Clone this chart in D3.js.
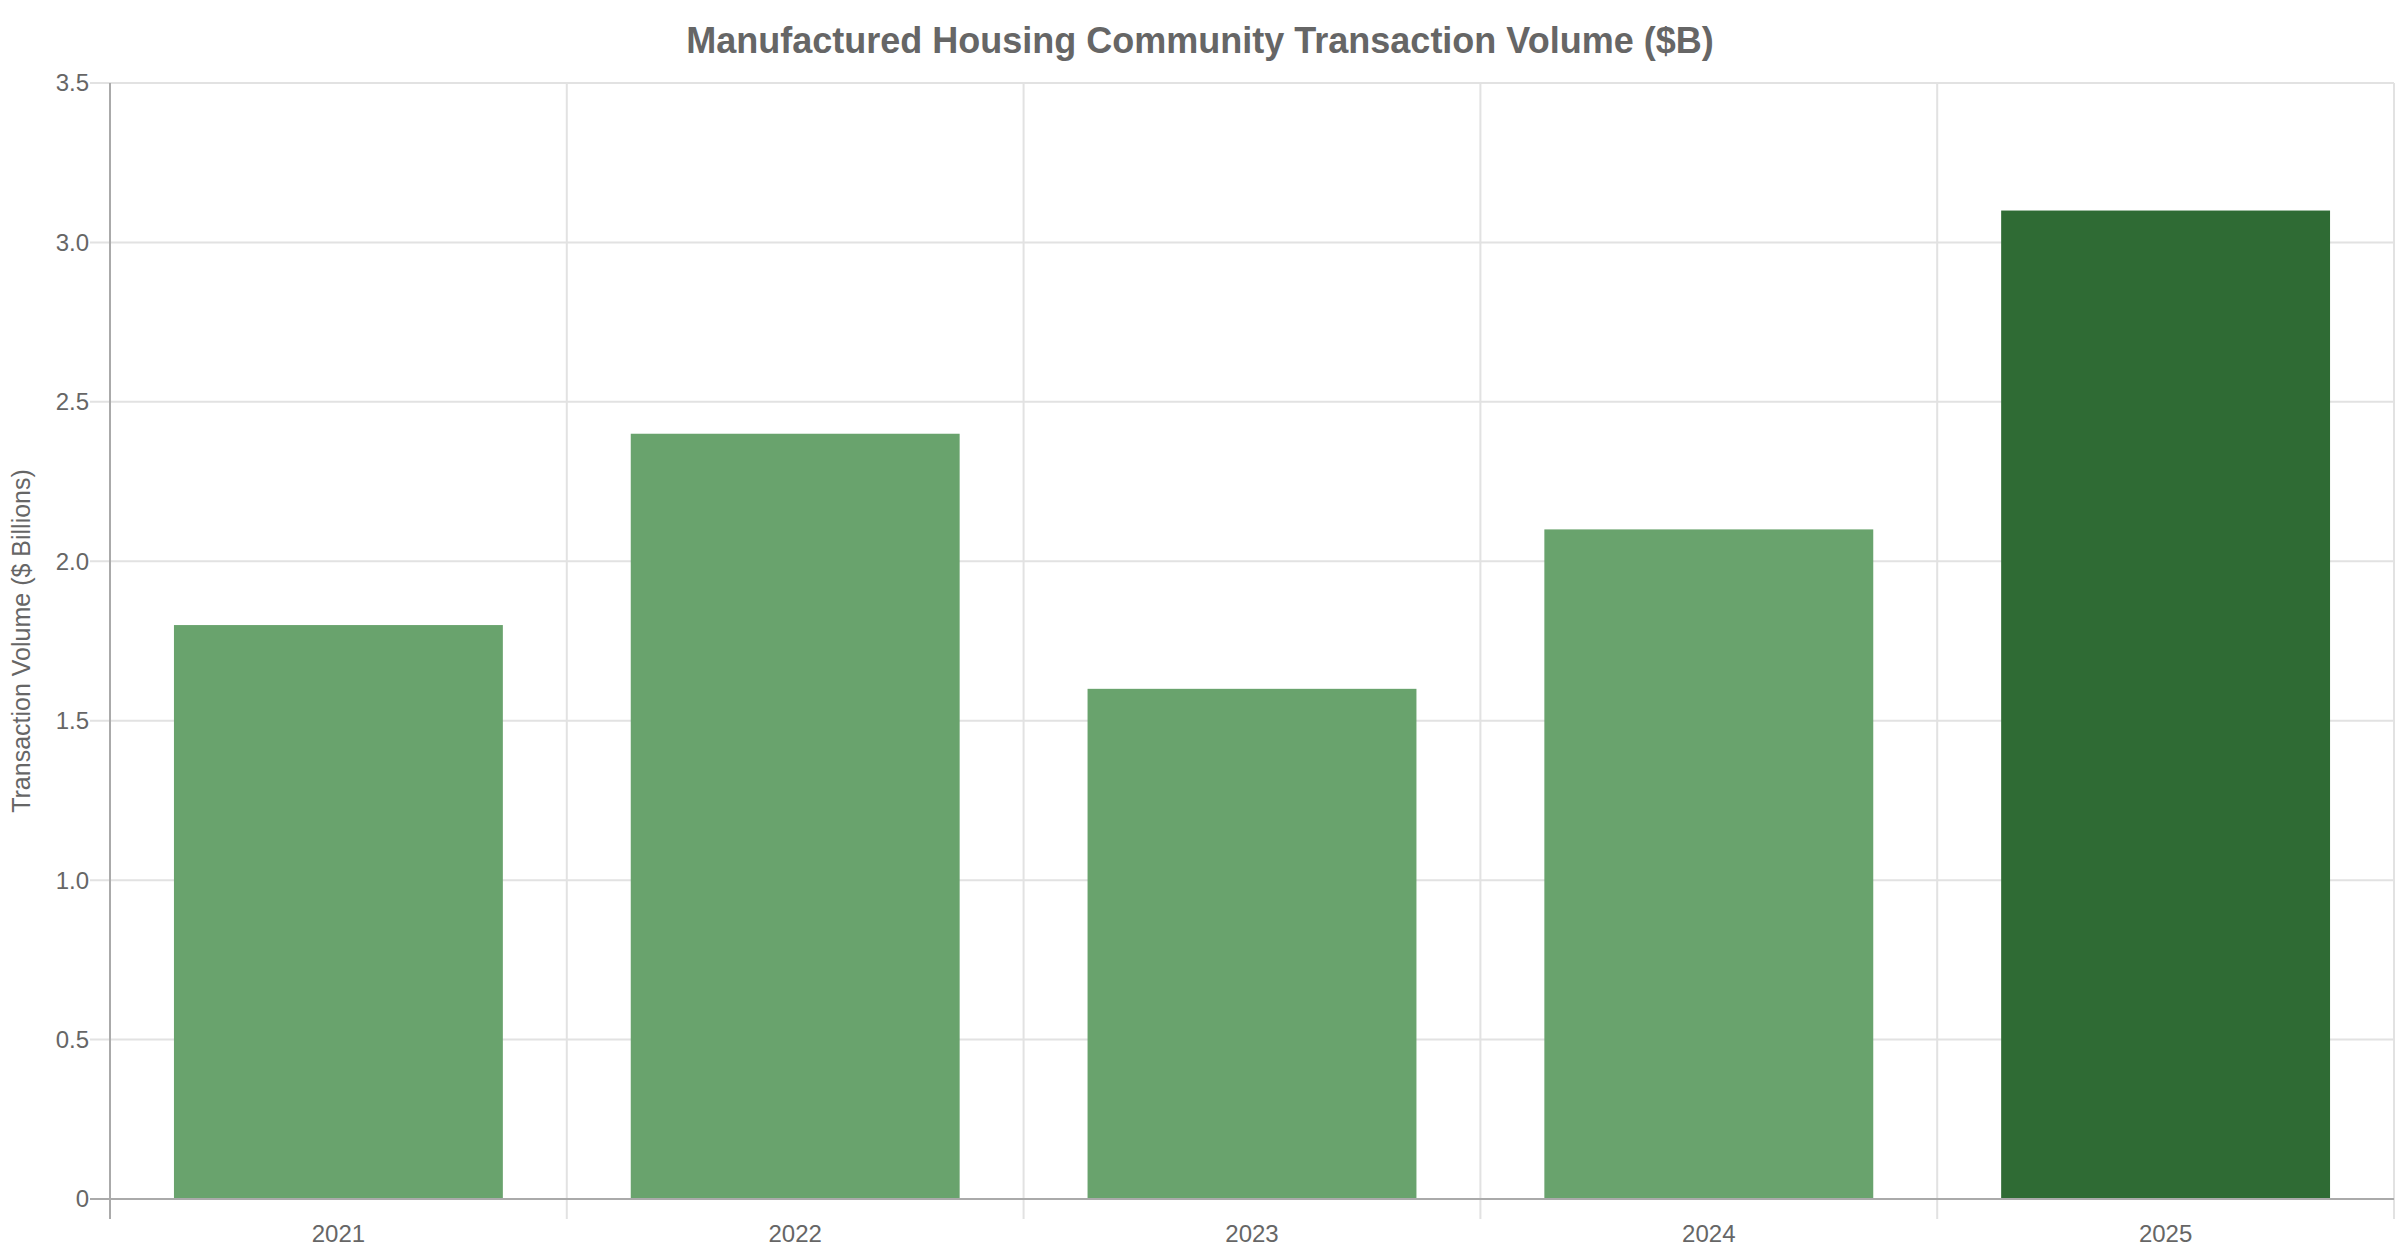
<!DOCTYPE html>
<html>
<head>
<meta charset="utf-8">
<script src="https://cdn.jsdelivr.net/npm/d3@7"></script>
<style>
  html, body { margin: 0; padding: 0; background: #fff; }
  svg { display: block; font-family: "Liberation Sans", Arial, Helvetica, sans-serif; }
</style>
</head>
<body>
<svg id="chart" width="2400" height="1260"></svg>
<script>
// data
const years = ["2021", "2022", "2023", "2024", "2025"];
const volumes = [1.8, 2.4, 1.6, 2.1, 3.1];
const barColors = ["#69a36d", "#69a36d", "#69a36d", "#69a36d", "#2f6b34"];
const yTicks = [0, 0.5, 1.0, 1.5, 2.0, 2.5, 3.0, 3.5];
const yTickLabels = ["0", "0.5", "1.0", "1.5", "2.0", "2.5", "3.0", "3.5"];
const titleText = "Manufactured Housing Community Transaction Volume ($B)";
const yTitle = "Transaction Volume ($ Billions)";

const W = 2400, H = 1260;
const m = { top: 83, right: 6, bottom: 61, left: 110 };
const svg = d3.select("#chart");

const x = d3.scaleBand().domain(years).range([m.left, W - m.right]).padding(0);
const y = d3.scaleLinear().domain([0, 3.5]).range([H - m.bottom, m.top]);
const barPad = 0.14; // chart.js style 0.8 * 0.9 bar share

// title
svg.append("text")
  .attr("x", W / 2).attr("y", 53)
  .attr("text-anchor", "middle")
  .attr("font-size", 36).attr("font-weight", "bold")
  .attr("fill", "#666")
  .text(titleText);

// horizontal grid
svg.append("g").selectAll("line")
  .data(yTicks.filter(d => d > 0))
  .enter().append("line")
  .attr("x1", m.left - 20).attr("x2", W - m.right)
  .attr("y1", d => y(d)).attr("y2", d => y(d))
  .attr("stroke", "#e2e2e2").attr("stroke-width", 2);

// vertical grid at category edges
const edges = years.map(d => x(d)).concat([x(years[years.length - 1]) + x.bandwidth()]);
svg.append("g").selectAll("line")
  .data(edges.slice(1))
  .enter().append("line")
  .attr("x1", d => d).attr("x2", d => d)
  .attr("y1", m.top).attr("y2", H - m.bottom + 20)
  .attr("stroke", "#e2e2e2").attr("stroke-width", 2);

// bars
svg.append("g").selectAll("rect")
  .data(volumes)
  .enter().append("rect")
  .attr("x", (d, i) => x(years[i]) + x.bandwidth() * barPad)
  .attr("width", x.bandwidth() * (1 - 2 * barPad))
  .attr("y", d => y(d))
  .attr("height", d => y(0) - y(d))
  .attr("fill", (d, i) => barColors[i]);

// axes lines
svg.append("line")
  .attr("x1", m.left).attr("x2", m.left)
  .attr("y1", m.top).attr("y2", H - m.bottom + 20)
  .attr("stroke", "#aaa").attr("stroke-width", 2);
svg.append("line")
  .attr("x1", m.left - 20).attr("x2", W - m.right)
  .attr("y1", y(0)).attr("y2", y(0))
  .attr("stroke", "#aaa").attr("stroke-width", 2);

// y tick labels
svg.append("g").selectAll("text")
  .data(yTicks)
  .enter().append("text")
  .attr("x", m.left - 21).attr("y", d => y(d))
  .attr("dy", "0.35em")
  .attr("text-anchor", "end")
  .attr("font-size", 24).attr("fill", "#666")
  .text((d, i) => yTickLabels[i]);

// x tick labels
svg.append("g").selectAll("text")
  .data(years)
  .enter().append("text")
  .attr("x", d => x(d) + x.bandwidth() / 2)
  .attr("y", 1242)
  .attr("text-anchor", "middle")
  .attr("font-size", 24).attr("fill", "#666")
  .text(d => d);

// y axis title
svg.append("text")
  .attr("transform", `translate(30, ${(m.top + H - m.bottom) / 2}) rotate(-90)`)
  .attr("text-anchor", "middle")
  .attr("font-size", 25).attr("fill", "#666")
  .text(yTitle);
</script>
</body>
</html>
